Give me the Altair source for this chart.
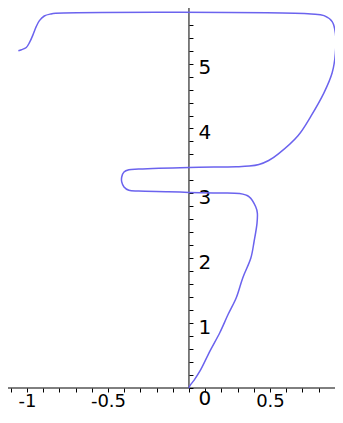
import altair as alt
import pandas as pd

# ---- data (parametric curve, in drawing order) ----
curve_x = [0.000, 0.007, 0.031, 0.070, 0.131, 0.191, 0.242, 0.292, 0.332, 0.382,
           0.402, 0.420, 0.422, 0.412, 0.372, 0.311, 0.150, 0.000, -0.130, -0.311,
           -0.371, -0.401, -0.415, -0.415, -0.401, -0.371, -0.311, 0.000, 0.292, 0.372,
           0.432, 0.492, 0.552, 0.673, 0.754, 0.834, 0.884, 0.904, 0.904, 0.884,
           0.834, 0.754, -0.823, -0.853, -0.893, -0.923, -0.943, -0.963, -0.984, -1.004,
           -1.034, -1.053]
curve_y = [0.000, 0.040, 0.118, 0.270, 0.576, 0.856, 1.136, 1.391, 1.697, 2.003,
           2.258, 2.538, 2.700, 2.794, 2.947, 2.997, 3.005, 3.015, 3.025, 3.035,
           3.047, 3.099, 3.176, 3.252, 3.329, 3.364, 3.375, 3.400, 3.410, 3.420,
           3.445, 3.506, 3.609, 3.888, 4.194, 4.552, 4.858, 5.164, 5.469, 5.647,
           5.739, 5.765, 5.775, 5.765, 5.734, 5.662, 5.570, 5.443, 5.326, 5.249,
           5.214, 5.199]

x_ticks = [-1.1, -1.0, -0.9, -0.8, -0.7, -0.6, -0.5, -0.4, -0.3, -0.2, -0.1, 0.0,
           0.1, 0.2, 0.3, 0.4, 0.5, 0.6, 0.7, 0.8, 0.9]
x_labels = [-1.0, -0.5, 0.5]
y_ticks = [0.0, 0.2, 0.4, 0.6, 0.8, 1.0, 1.2, 1.4, 1.6, 1.8, 2.0, 2.2, 2.4, 2.6, 2.8,
           3.0, 3.2, 3.4, 3.6, 3.8, 4.0, 4.2, 4.4, 4.6, 4.8, 5.0, 5.2, 5.4, 5.6, 5.8]
y_labels = [0.0, 1.0, 2.0, 3.0, 4.0, 5.0]

XMIN, XMAX = -1.117, 0.9015
YMIN, YMAX = -0.3545, 5.857
W, H = 327, 403

df = pd.DataFrame({"i": list(range(len(curve_x))), "x": curve_x, "y": curve_y})
zero_df = pd.DataFrame({"v": [0.0]})

x0_px = (0 - XMIN) / (XMAX - XMIN) * W
y0_px = (YMAX - 0) / (YMAX - YMIN) * H

xscale = alt.Scale(domain=[XMIN, XMAX], nice=False, zero=False)
yscale = alt.Scale(domain=[YMIN, YMAX], nice=False, zero=False)

FONT = "DejaVu Sans"

xaxis = alt.Axis(
    orient="bottom", offset=y0_px - H, domain=False, grid=False, title=None,
    values=x_ticks, tickSize=4, tickColor="black", tickWidth=1,
    labelExpr="indexof(%s, datum.value) >= 0 ? toString(datum.value) : ''" % str(x_labels),
    labelFont=FONT, labelFontSize=18, labelColor="black",
    labelBaseline="top", labelAlign="center", labelPadding=0,
    labelOverlap=False, labelFlush=False,
)
yaxis = alt.Axis(
    orient="right", offset=x0_px - W, domain=False, grid=False, title=None,
    values=y_ticks, tickSize=4, tickColor="black", tickWidth=1,
    labelExpr="indexof(%s, datum.value) >= 0 ? toString(datum.value) : ''" % str(y_labels),
    labelFont=FONT, labelFontSize=20, labelColor="black",
    labelBaseline="middle", labelAlign="left", labelPadding=5,
    labelOffset={"condition": {"test": "datum.value === 0", "value": 10}, "value": 4},
    labelOverlap=False, labelFlush=False,
)

curve = alt.Chart(df).mark_line(
    color="#6B63EE", strokeWidth=1.5, interpolate="catmull-rom"
).encode(
    x=alt.X("x:Q", scale=xscale, axis=xaxis),
    y=alt.Y("y:Q", scale=yscale, axis=yaxis),
    order=alt.Order("i:Q"),
)

x_line = alt.Chart(zero_df).mark_rule(color="black", strokeWidth=1).encode(
    y=alt.Y("v:Q", scale=yscale, axis=yaxis),
    x=alt.value(0),
    x2=alt.value(W),
)
y_line = alt.Chart(zero_df).mark_rule(color="black", strokeWidth=1).encode(
    x=alt.X("v:Q", scale=xscale, axis=xaxis),
    y=alt.Y("v:Q", scale=yscale, axis=yaxis),
    y2=alt.value(0),
)

chart = alt.layer(x_line, y_line, curve).properties(
    width=W, height=H, padding=0,
    autosize=alt.AutoSizeParams(type="none"),
    background="white",
).configure_view(stroke=None)

chart.save("out.html", embed_options={"renderer": "svg", "actions": False})
